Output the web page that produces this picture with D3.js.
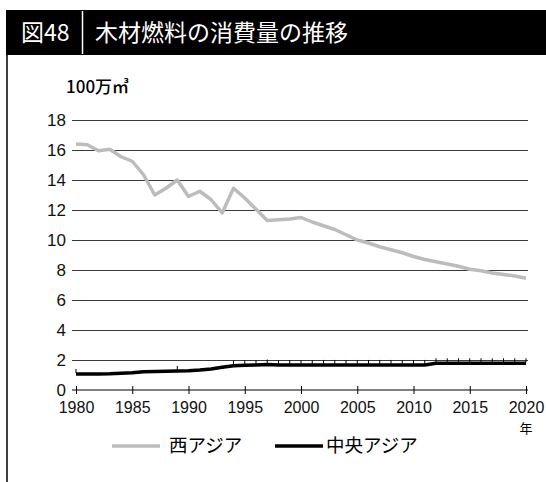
<!DOCTYPE html>
<html>
<head>
<meta charset="utf-8">
<script src="https://cdn.jsdelivr.net/npm/d3@7"></script>
<style>
  body { margin: 0; background: #fff; }
  text { font-family: "Liberation Sans", Arial, sans-serif; }
  .jp { font-family: "Noto Sans CJK JP", sans-serif; }
</style>
</head>
<body>
<div id="chart"></div>
<script>
var years = d3.range(1980, 2021);
var westAsia = [16.4, 16.35, 15.95, 16.05, 15.55, 15.25, 14.35, 13.0, 13.45, 14.0,
  12.9, 13.25, 12.7, 11.8, 13.45, 12.8, 12.05, 11.3, 11.35, 11.4,
  11.5, 11.2, 10.95, 10.7, 10.35, 10.0, 9.8, 9.55, 9.35, 9.15,
  8.9, 8.7, 8.55, 8.4, 8.25, 8.05, 7.95, 7.8, 7.7, 7.6, 7.45];
var centralAsia = [1.07, 1.07, 1.07, 1.08, 1.12, 1.15, 1.22, 1.23, 1.25, 1.27,
  1.29, 1.33, 1.4, 1.52, 1.62, 1.65, 1.67, 1.7, 1.66, 1.66,
  1.66, 1.66, 1.67, 1.67, 1.67, 1.67, 1.67, 1.67, 1.67, 1.67,
  1.67, 1.67, 1.78, 1.78, 1.78, 1.78, 1.78, 1.78, 1.78, 1.78, 1.78];
var yTicks = [0, 2, 4, 6, 8, 10, 12, 14, 16, 18];
var xTicks = [1980, 1985, 1990, 1995, 2000, 2005, 2010, 2015, 2020];
var seriesNames = ["西アジア", "中央アジア"];
var seriesColors = ["#bcbcbc", "#000"];

var svgWidth = 546, svgHeight = 482;

var svg = d3.select("#chart").append("svg")
    .attr("width", svgWidth)
    .attr("height", svgHeight);

// title bar
svg.append("rect")
    .attr("x", 6).attr("y", 10)
    .attr("width", svgWidth - 6).attr("height", 45)
    .attr("fill", "#000");
svg.append("text")
    .attr("class", "jp")
    .attr("x", 21).attr("y", 41)
    .attr("fill", "#fff")
    .style("font-size", "23px")
    .text("図48");
svg.append("line")
    .attr("x1", 82.5).attr("x2", 82.5)
    .attr("y1", 11).attr("y2", 54)
    .attr("stroke", "#fff").attr("stroke-width", 1.5);
svg.append("text")
    .attr("class", "jp")
    .attr("x", 95).attr("y", 41)
    .attr("fill", "#fff")
    .style("font-size", "23px")
    .text("木材燃料の消費量の推移");

// left frame
svg.append("line")
    .attr("x1", 7).attr("x2", 7)
    .attr("y1", 55).attr("y2", svgHeight)
    .attr("stroke", "#000").attr("stroke-width", 1.5);

var x = d3.scaleLinear().domain([1980, 2020]).range([76, 526]);
var y = d3.scaleLinear().domain([0, 18]).range([390, 120]);

// unit label
svg.append("text")
    .attr("class", "jp")
    .attr("x", 66).attr("y", 93)
    .style("font-size", "17px")
    .style("font-weight", "500")
    .text("100万㎥");

// grid lines
svg.append("g")
    .attr("transform", "translate(528,0)")
    .call(d3.axisLeft(y).tickValues(yTicks.filter(function(d) { return d > 0; }))
      .tickSize(528 - 72).tickFormat(""))
    .call(function(g) {
      g.select(".domain").remove();
      g.selectAll(".tick line").attr("stroke", "#3a3a3a").attr("stroke-width", 1.2);
    });

// y labels
svg.append("g")
    .selectAll("text")
    .data(yTicks)
    .enter().append("text")
    .attr("x", 66)
    .attr("y", function(d) { return y(d) + 6; })
    .attr("text-anchor", "end")
    .style("font-size", "17px")
    .attr("fill", "#111")
    .text(function(d) { return d; });

// x axis
var xAxis = svg.append("g")
    .attr("transform", "translate(0," + y(0) + ")")
    .call(d3.axisBottom(x).tickValues(xTicks).tickSize(4).tickFormat(d3.format("d")));
xAxis.select(".domain").attr("d", "M72,0H528").attr("stroke", "#000");
xAxis.selectAll(".tick line").attr("y1", -4).attr("y2", 4).attr("stroke", "#000");
xAxis.selectAll(".tick text")
    .attr("y", 12)
    .style("font-size", "16px")
    .style("font-family", "'Liberation Sans', Arial, sans-serif")
    .attr("fill", "#111");
svg.append("text")
    .attr("class", "jp")
    .attr("x", x(2020)).attr("y", 433)
    .attr("text-anchor", "middle")
    .style("font-size", "13px")
    .text("年");

var line = d3.line()
    .x(function(d, i) { return x(years[i]); })
    .y(function(d) { return y(d); });

svg.append("path")
    .datum(westAsia)
    .attr("fill", "none")
    .attr("stroke", seriesColors[0])
    .attr("stroke-width", 3.5)
    .attr("stroke-linejoin", "round")
    .attr("d", line);

svg.append("path")
    .datum(centralAsia)
    .attr("fill", "none")
    .attr("stroke", seriesColors[1])
    .attr("stroke-width", 3.5)
    .attr("stroke-linejoin", "round")
    .attr("d", line);

// small markers above central asia line
var markIdx = years.map(function(d, i) { return i; })
    .filter(function(i) { return years[i] >= 1994 || years[i] === 1980 || years[i] === 1989; });
svg.append("g")
    .selectAll("line")
    .data(markIdx)
    .enter().append("line")
    .attr("x1", function(i) { return x(years[i]); })
    .attr("x2", function(i) { return x(years[i]); })
    .attr("y1", function(i) { return y(centralAsia[i]) - 1; })
    .attr("y2", function(i) { return y(centralAsia[i]) - 5; })
    .attr("stroke", "#000").attr("stroke-width", 1);

// legend
var legend = svg.append("g");
var legendX = [112, 275];
seriesNames.forEach(function(name, i) {
  legend.append("line")
      .attr("x1", legendX[i]).attr("x2", legendX[i] + 48)
      .attr("y1", 446).attr("y2", 446)
      .attr("stroke", seriesColors[i]).attr("stroke-width", 3.5);
  legend.append("text")
      .attr("class", "jp")
      .attr("x", legendX[i] + (i === 0 ? 57 : 51)).attr("y", 452)
      .style("font-size", "18.5px")
      .text(name);
});
</script>
</body>
</html>
